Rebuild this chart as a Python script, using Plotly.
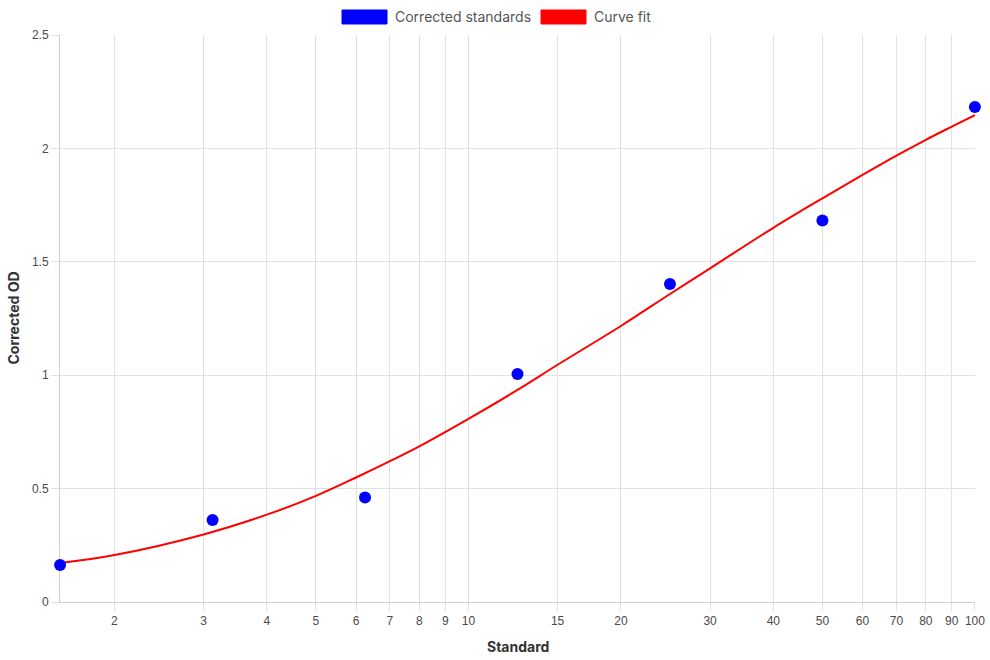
import plotly.graph_objects as go
import math

# Standards (measured points)
std_x = [1.5625, 3.125, 6.25, 12.5, 25, 50, 100]
std_y = [0.163, 0.362, 0.461, 1.005, 1.402, 1.682, 2.183]

# Curve fit
fit_x = [1.5625, 2, 3, 4, 5, 6, 7, 8, 10, 12.5, 15, 20, 25, 30, 40, 50, 60, 70, 80, 90, 100]
fit_y = [0.172, 0.207, 0.298, 0.385, 0.468, 0.549, 0.621, 0.686, 0.807, 0.935, 1.046,
         1.217, 1.358, 1.471, 1.650, 1.780, 1.883, 1.968, 2.038, 2.096, 2.147]

x_ticks = [2, 3, 4, 5, 6, 7, 8, 9, 10, 15, 20, 30, 40, 50, 60, 70, 80, 90, 100]
y_ticks = [0, 0.5, 1, 1.5, 2, 2.5]

legend_names = ["Corrected standards", "Curve fit"]
legend_colors = ["#0000ff", "#ff0000"]

grid = "#e1e1e1"
tick_font = dict(family="Liberation Sans, Arial", size=12, color="#4a4a4a")
title_font = dict(family="Inter, Lato, sans-serif", size=14, color="#333333")

fig = go.Figure()
fig.add_trace(go.Scatter(
    x=fit_x, y=fit_y, mode="lines", name=legend_names[1],
    line=dict(color=legend_colors[1], width=2, shape="spline", smoothing=1.0),
    showlegend=False, hoverinfo="skip"))
fig.add_trace(go.Scatter(
    x=std_x, y=std_y, mode="markers", name=legend_names[0],
    marker=dict(color=legend_colors[0], size=12, line=dict(width=0)),
    showlegend=False, cliponaxis=False))

fig.update_xaxes(
    type="log", range=[math.log10(std_x[0]) - 2e-4, math.log10(100) + 2e-4],
    tickvals=x_ticks, ticktext=[str(v) for v in x_ticks],
    showgrid=True, gridcolor=grid, gridwidth=1,
    ticks="outside", ticklen=8, tickcolor=grid,
    showline=True, linecolor="#cfcfcf", linewidth=1, layer="below traces",
    zeroline=False, tickfont=tick_font, automargin=False)
fig.update_yaxes(
    range=[0, 2.5], tickvals=y_ticks, ticktext=["0", "0.5", "1", "1.5", "2", "2.5"],
    showgrid=True, gridcolor=grid, gridwidth=1,
    ticks="outside", ticklen=8, tickcolor=grid,
    showline=True, linecolor="#cfcfcf", linewidth=1, layer="below traces",
    zeroline=False, tickfont=tick_font, automargin=False)

# Axis titles
fig.add_annotation(text="<b>Standard</b>", xref="paper", yref="paper", x=0.5, y=0,
                   yshift=-44, showarrow=False, font=title_font, yanchor="middle")
fig.add_annotation(text="<b>Corrected OD</b>", xref="paper", yref="paper", x=0, y=0.5,
                   xshift=-47, showarrow=False, font=title_font, textangle=-90,
                   xanchor="center")

# Manual legend with wide colour boxes (pixel-based via paper coordinates)
W, H = 990, 660
ml, mr, mt, mb = 60, 15, 35, 58
pw, ph = W - ml - mr, H - mt - mb
def px(x):
    return (x - ml) / pw
def py(y):
    return (H - mb - y) / ph
boxes = [(342, 387, 393), (541, 586, 592)]
for (x0, x1, tx), name, col in zip(boxes, legend_names, legend_colors):
    fig.add_shape(type="rect", xref="paper", yref="paper",
                  x0=px(x0), x1=px(x1), y0=py(24), y1=py(10),
                  fillcolor=col, line=dict(color=col, width=1))
    fig.add_annotation(text=name, xref="paper", yref="paper", x=px(tx), y=py(17),
                       xanchor="left", yanchor="middle", showarrow=False,
                       font=dict(family="Inter, Lato, sans-serif", size=14, color="#555555"))

fig.update_layout(
    width=W, height=H, margin=dict(l=ml, r=mr, t=mt, b=mb),
    paper_bgcolor="white", plot_bgcolor="white", showlegend=False)

fig.write_html("out.html")
